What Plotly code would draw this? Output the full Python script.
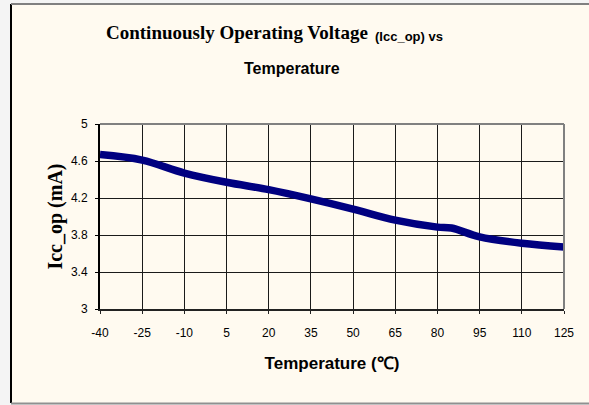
import plotly.graph_objects as go

temps = [-40, -25, -10, 5, 20, 35, 50, 65, 80, 85, 95, 110, 125]
icc_op = [4.67, 4.61, 4.47, 4.37, 4.29, 4.19, 4.08, 3.96, 3.885, 3.875, 3.78, 3.71, 3.67]
x_ticks = [-40, -25, -10, 5, 20, 35, 50, 65, 80, 95, 110, 125]
y_ticks = [3, 3.4, 3.8, 4.2, 4.6, 5]
y_tick_text = ["3", "3.4", "3.8", "4.2", "4.6", "5"]

L, R, T, B = 100, 25, 124, 96
W, H = 589, 405
pw, ph = W - L - R, H - T - B


def px(x):
    return (x - L) / pw


def py(y):
    return (H - B - y) / ph


fig = go.Figure()
fig.add_trace(go.Scatter(
    x=temps, y=icc_op, mode="lines",
    line=dict(color="#000080", width=7.5, shape="spline", smoothing=1.0),
    showlegend=False, hoverinfo="skip",
))

sans = "Liberation Sans, Arial, sans-serif"
serif = "Liberation Serif, Times New Roman, serif"

fig.update_layout(
    width=W, height=H,
    margin=dict(l=L, r=R, t=T, b=B),
    paper_bgcolor="#f4f4f4",
    plot_bgcolor="#c0c0c0",
    xaxis=dict(
        range=[-40, 125], tickvals=x_ticks, ticktext=[str(v) for v in x_ticks],
        showgrid=True, gridcolor="#1a1a1a", gridwidth=1,
        showline=True, linecolor="#222222", linewidth=2,
        ticks="outside", ticklen=3, tickcolor="#222222",
        ticklabelstandoff=9,
        tickfont=dict(family=sans, size=12, color="#000"),
        zeroline=False,
        title=dict(text="<b>Temperature (℃)</b>", font=dict(family=sans, size=17, color="#000"), standoff=18),
    ),
    yaxis=dict(
        range=[3, 5], tickvals=y_ticks, ticktext=y_tick_text,
        showgrid=True, gridcolor="#1a1a1a", gridwidth=1,
        showline=True, linecolor="#000000", linewidth=2,
        ticks="outside", ticklen=3, tickcolor="#000",
        ticklabelstandoff=5,
        tickfont=dict(family=sans, size=12, color="#000"),
        zeroline=False,
        title=dict(text="<b>Icc_op (mA)</b>", font=dict(family=serif, size=20, color="#000"), standoff=3),
    ),
)

# outer chart-area frame
fig.add_shape(type="rect", xref="paper", yref="paper",
              x0=px(11), x1=px(620), y0=py(403), y1=py(4),
              fillcolor="#fffaf0", line=dict(width=0), layer="below")
fig.add_shape(type="line", xref="paper", yref="paper",
              x0=px(11), x1=px(11), y0=py(403), y1=py(4),
              line=dict(color="#000", width=2), layer="above")
fig.add_shape(type="line", xref="paper", yref="paper",
              x0=px(11), x1=px(620), y0=py(4), y1=py(4),
              line=dict(color="#808080", width=2), layer="above")
fig.add_shape(type="line", xref="paper", yref="paper",
              x0=px(11), x1=px(620), y0=py(403.5), y1=py(403.5),
              line=dict(color="#909090", width=2), layer="above")
# plot border (top and right in gray)
fig.add_shape(type="line", xref="paper", yref="paper",
              x0=0, x1=1, y0=1, y1=1, line=dict(color="#808080", width=2), layer="above")
fig.add_shape(type="line", xref="paper", yref="paper",
              x0=1, x1=1, y0=0, y1=1, line=dict(color="#808080", width=2), layer="above")

# title
fig.add_annotation(
    xref="paper", yref="paper", x=px(104), y=py(33), xanchor="left", yanchor="middle",
    showarrow=False, text="<b>Continuously Operating Voltage</b>",
    font=dict(family=serif, size=19, color="#000"),
)
fig.add_annotation(
    xref="paper", yref="paper", x=px(373), y=py(36), xanchor="left", yanchor="middle",
    showarrow=False, text="<b>(Icc_op) vs</b>",
    font=dict(family=sans, size=13, color="#000"),
)
fig.add_annotation(
    xref="paper", yref="paper", x=px(292), y=py(68), xanchor="center", yanchor="middle",
    showarrow=False, text="<b>Temperature</b>",
    font=dict(family=sans, size=16, color="#000"),
)

fig.write_html(
    "out.html",
    config={"displayModeBar": False},
    post_script="document.body.style.margin='0';document.body.style.background='#f4f4f4';",
)
